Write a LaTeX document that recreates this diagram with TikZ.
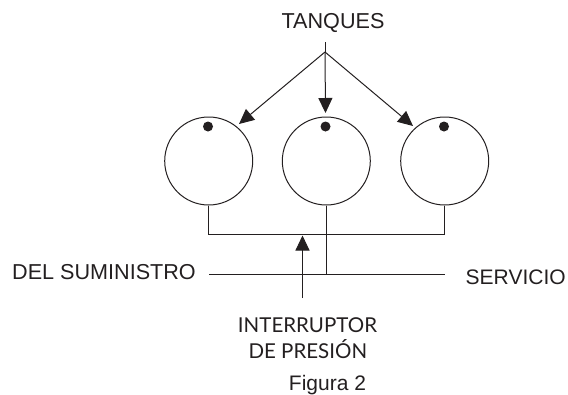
\documentclass[tikz,border=0pt]{standalone}
\usepackage{fontspec}
\setmainfont{Liberation Sans}
\newfontfamily\gillish{Lato}
\usetikzlibrary{arrows.meta}
\definecolor{ink}{HTML}{231F20}
\tikzset{
  tank/.style={circle,draw=ink,line width=1pt,minimum size=88pt,inner sep=0pt},
  dotmark/.style={circle,fill=ink,minimum size=10pt,inner sep=0pt},
  label/.style={inner sep=0pt,anchor=base,text=ink,font=\fontsize{21.6}{22}\selectfont},
  labelb/.style={inner sep=0pt,anchor=base,text=ink,font=\gillish\fontsize{20.5}{21}\selectfont},
  pipe/.style={draw=ink,line width=1pt},
  arrowline/.style={draw=ink,line width=1pt,-{Triangle[length=15pt,width=14pt]}}
}
\begin{document}
\begin{tikzpicture}[x=1pt,y=-1pt]
\useasboundingbox (0,0) rectangle (568,394);
\node[label] (tanques) at (333,28) {TANQUES};
\node[tank] (t1) at (208.7,161) {};
\node[tank] (t2) at (326.3,161) {};
\node[tank] (t3) at (444.7,161) {};
\node[dotmark] (d1) at (208,126.5) {};
\node[dotmark] (d2) at (325.5,126.5) {};
\node[dotmark] (d3) at (444,126.5) {};
\coordinate (top) at (325,42);
\coordinate (apex) at (325,52);
\coordinate (a1) at (239,124);
\coordinate (a2) at (325.5,113);
\coordinate (a3) at (413,126);
\draw[pipe] (top) -- (apex);
\draw[arrowline] (apex) -- (a1);
\draw[arrowline] (apex) -- (a2);
\draw[arrowline] (apex) -- (a3);
\coordinate (b1) at (208.7,234.6);
\coordinate (b3) at (444.7,234.6);
\coordinate (s1) at (209,274.6);
\coordinate (s2) at (326.3,274.6);
\coordinate (s3) at (445,274.6);
\draw[pipe] (t1.south) -- (b1) -- (b3) -- (t3.south);
\draw[pipe] (t2.south) -- (s2);
\draw[pipe] (s1) -- (s3);
\coordinate (sw) at (302.5,298);
\coordinate (swt) at (302.5,235.5);
\draw[arrowline] (sw) -- (swt);
\node[label] (sum) at (104,279.3) {DEL SUMINISTRO};
\node[label,font=\fontsize{21}{22}\selectfont] (srv) at (515.7,284) {SERVICIO};
\node[labelb] (int) at (307.5,332.7) {INTERRUPTOR};
\node[labelb] (pre) at (307.8,358.3) {DE PRESIÓN};
\node[label,font=\fontsize{21}{22}\selectfont] (fig) at (327.5,390.7) {Figura 2};
\end{tikzpicture}
\end{document}
